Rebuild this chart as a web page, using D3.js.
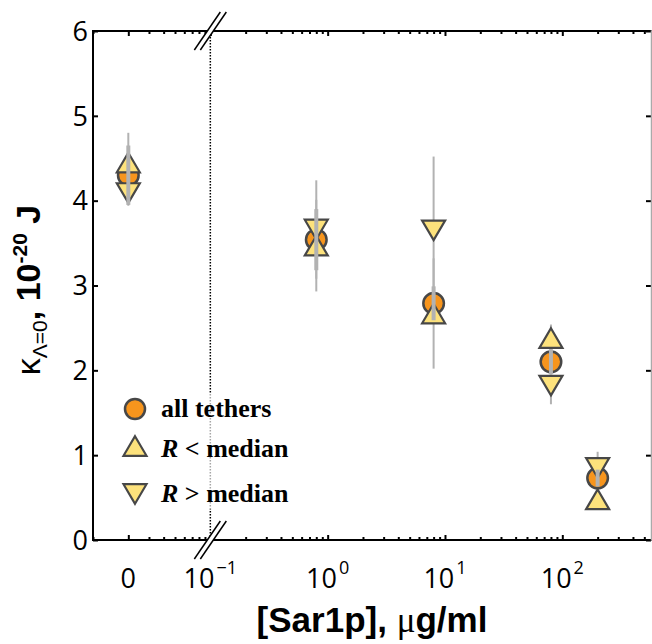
<!DOCTYPE html>
<html>
<head>
<meta charset="utf-8">
<script src="https://cdn.jsdelivr.net/npm/d3@7"></script>
<style>
    body { margin: 0; background: #fff; }
    svg { display: block; }
</style>
</head>
<body>
<div id="chart"></div>
<script>
// Sar1p concentration (µg/ml); 0 is drawn at a fixed spot left of the axis break
const concentrations = [0, 0.8, 8, 80, 200];
const zeroAt = 0.02;

// bending rigidity, 10^-20 J
const allTethers    = [4.30, 3.54, 2.79, 2.10, 0.73];
const allTethersErr = [0.35, 0.36, 0.20, 0.15, 0.10];
const rBelow        = [4.45, 3.47, 2.67, 2.38, 0.48];
const rBelowErr     = [0.35, 0.54, 0.65, 0.16, 0.08];
const rAbove        = [4.09, 3.66, 3.65, 1.82, 0.85];
const rAboveErr     = [0.15, 0.58, 0.87, 0.22, 0.19];

const yTicks = [0, 1, 2, 3, 4, 5, 6];
const xPowers = [0.1, 1, 10, 100];
const xExponents = ['\u22121', '0', '1', '2'];
const xDomain = [0.01, 570];
const yDomain = [0, 6];

const width = 652, height = 644;
const m = { left: 93, right: 651, top: 31, bottom: 540 };

const svg = d3.select('#chart').append('svg')
    .attr('width', width)
    .attr('height', height);

const x = d3.scaleLog().domain(xDomain).range([m.left, m.right]);
const y = d3.scaleLinear().domain(yDomain).range([m.bottom, m.top]);
const px = c => x(c === 0 ? zeroAt : c);

const tickFont = '"Open Sans", sans-serif';
const orange = '#f7951d';
const yellow = '#fde27c';
const edge = '#474747';
const barColor = '#b2b2b2';

// dotted line at the break
const breakX = x(0.1);
svg.append('line')
    .attr('x1', breakX).attr('x2', breakX)
    .attr('y1', m.top).attr('y2', m.bottom)
    .attr('stroke', '#000')
    .attr('stroke-width', 1.5)
    .attr('stroke-dasharray', '1.5,1.5');

// series as rows
const rows = concentrations.map((c, i) => ({
    c,
    all: allTethers[i], allErr: allTethersErr[i],
    lo: rBelow[i], loErr: rBelowErr[i],
    hi: rAbove[i], hiErr: rAboveErr[i]
}));

const plot = svg.append('g');

// thin error bars for the two split series
['lo', 'hi'].forEach(k => {
    plot.selectAll(null)
        .data(rows)
        .enter()
        .append('line')
        .attr('x1', d => px(d.c)).attr('x2', d => px(d.c))
        .attr('y1', d => y(d[k] - d[k + 'Err']))
        .attr('y2', d => y(d[k] + d[k + 'Err']))
        .attr('stroke', barColor)
        .attr('stroke-width', 2);
});

function triangle(up) {
    const w = 11.5, h = 9.8;
    return up
        ? `M0,${-h}L${w},${h}L${-w},${h}Z`
        : `M0,${h}L${w},${-h}L${-w},${-h}Z`;
}

function drawMarkers(g, data, key, shape) {
    const sel = g.selectAll(null)
        .data(data)
        .enter();
    if (shape === 'circle') {
        sel.append('circle')
            .attr('cx', d => px(d.c))
            .attr('cy', d => y(d[key]))
            .attr('r', 10.3)
            .attr('fill', orange)
            .attr('stroke', edge)
            .attr('stroke-width', 2.5);
    } else {
        sel.append('path')
            .attr('d', triangle(shape === 'up'))
            .attr('transform', d => `translate(${px(d.c)},${y(d[key])})`)
            .attr('fill', yellow)
            .attr('stroke', edge)
            .attr('stroke-width', 2.2);
    }
}

drawMarkers(plot, rows, 'all', 'circle');
drawMarkers(plot, rows, 'hi', 'down');
drawMarkers(plot, rows, 'lo', 'up');

// thick error bars for all tethers
plot.selectAll(null)
    .data(rows)
    .enter()
    .append('line')
    .attr('x1', d => px(d.c)).attr('x2', d => px(d.c))
    .attr('y1', d => y(d.all - d.allErr))
    .attr('y2', d => y(d.all + d.allErr))
    .attr('stroke', barColor)
    .attr('stroke-width', 4);

// axes: ticks inward, lines drawn separately
const minorX = x.ticks().filter(v => !xPowers.includes(v) && Math.abs(v - zeroAt) > 1e-9);
const majorX = [zeroAt].concat(xPowers);

function ticksOnly(g) {
    g.select('.domain').remove();
    g.selectAll('.tick line').attr('stroke', '#000').attr('stroke-width', 2);
    g.selectAll('.tick text').remove();
}

[[d3.axisBottom, m.bottom], [d3.axisTop, m.top]].forEach(([axis, pos]) => {
    svg.append('g').attr('transform', `translate(0,${pos})`)
        .call(axis(x).tickValues(minorX).tickSize(-3).tickSizeOuter(0))
        .call(ticksOnly);
    svg.append('g').attr('transform', `translate(0,${pos})`)
        .call(axis(x).tickValues(majorX).tickSize(-5).tickSizeOuter(0))
        .call(ticksOnly);
});

svg.append('g').attr('transform', `translate(${m.left},0)`)
    .call(d3.axisLeft(y).tickValues(yTicks).tickSize(-5).tickSizeOuter(0))
    .call(ticksOnly);
svg.append('g').attr('transform', `translate(${m.right},0)`)
    .call(d3.axisRight(y).tickValues(yTicks).tickSize(-5).tickSizeOuter(0))
    .call(ticksOnly);

const frame = svg.append('g').attr('stroke-linecap', 'square');
frame.append('line').attr('x1', m.left).attr('x2', m.right).attr('y1', m.bottom).attr('y2', m.bottom)
    .attr('stroke', '#000').attr('stroke-width', 2);
frame.append('line').attr('x1', m.left).attr('x2', m.right).attr('y1', m.top).attr('y2', m.top)
    .attr('stroke', '#000').attr('stroke-width', 2);
frame.append('line').attr('x1', m.left).attr('x2', m.left).attr('y1', m.top).attr('y2', m.bottom)
    .attr('stroke', '#000').attr('stroke-width', 2);
frame.append('line').attr('x1', m.right + 0.5).attr('x2', m.right + 0.5).attr('y1', m.top).attr('y2', m.bottom)
    .attr('stroke', '#aaa').attr('stroke-width', 1.5);

// y tick labels
svg.append('g').selectAll('text')
    .data(yTicks)
    .enter()
    .append('text')
    .attr('x', m.left - 5)
    .attr('y', d => y(d))
    .attr('dy', '0.36em')
    .attr('text-anchor', 'end')
    .attr('font-family', tickFont)
    .attr('font-size', 27)
    .text(d => d);

// x tick labels
const xl = svg.append('g')
    .attr('font-family', tickFont)
    .attr('font-size', 27)
    .attr('text-anchor', 'middle');
xl.append('text').attr('x', x(zeroAt)).attr('y', 588).text('0');
xPowers.forEach((v, i) => {
    const t = xl.append('text').attr('x', x(v)).attr('y', 588);
    t.append('tspan').text('10');
    t.append('tspan').attr('font-size', 18).attr('dx', 2).attr('dy', -14).text(xExponents[i]);
});

// axis breaks
[m.top, m.bottom].forEach(yy => {
    const dx = 13, dy = 19, gap = 3;
    svg.append('path')
        .attr('d', `M${breakX - gap - dx},${yy + dy}L${breakX - gap + dx},${yy - dy}` +
                   `L${breakX + gap + dx},${yy - dy}L${breakX + gap - dx},${yy + dy}Z`)
        .attr('fill', '#fff');
    [-gap, gap].forEach(o => {
        svg.append('line')
            .attr('x1', breakX + o - dx).attr('y1', yy + dy)
            .attr('x2', breakX + o + dx).attr('y2', yy - dy)
            .attr('stroke', '#000').attr('stroke-width', 1.5);
    });
});

// axis titles
svg.append('text')
    .attr('x', 372).attr('y', 632)
    .attr('text-anchor', 'middle')
    .attr('font-family', '"Liberation Sans", Arial, sans-serif')
    .attr('font-weight', 'bold')
    .attr('font-size', 35)
    .call(t => {
        t.append('tspan').text('[Sar1p], ');
        t.append('tspan').attr('font-weight', 'normal').attr('font-family', '"Liberation Serif", serif').text('\u03bc');
        t.append('tspan').text('g/ml');
    });

svg.append('text')
    .attr('transform', 'translate(40,290) rotate(-90)')
    .attr('text-anchor', 'middle')
    .attr('font-family', '"Liberation Sans", Arial, sans-serif')
    .attr('font-size', 34)
    .call(t => {
        t.append('tspan').text('\u03ba');
        t.append('tspan').attr('font-size', 21).attr('dy', 7).text('\u039b=0');
        t.append('tspan').attr('font-weight', 'bold').attr('dy', -7).text(', 10');
        t.append('tspan').attr('font-weight', 'bold').attr('font-size', 21).attr('dy', -13).text('-20');
        t.append('tspan').attr('font-weight', 'bold').attr('dy', 13).text(' J');
    });

// legend
const legend = svg.append('g');
legend.append('rect')
    .attr('x', 113).attr('y', 393).attr('width', 185).attr('height', 116)
    .attr('fill', '#fff').attr('opacity', 0.65);

const legendItems = [
    { shape: 'circle', my: 409, ty: 417, label: [['all tethers', 'normal']] },
    { shape: 'up', my: 446, ty: 457, label: [['R', 'italic'], [' < median', 'normal']] },
    { shape: 'down', my: 494, ty: 502, label: [['R', 'italic'], [' > median', 'normal']] }
];
legendItems.forEach(item => {
    if (item.shape === 'circle') {
        legend.append('circle').attr('cx', 135).attr('cy', item.my).attr('r', 10)
            .attr('fill', orange).attr('stroke', edge).attr('stroke-width', 2.5);
    } else {
        legend.append('path').attr('d', triangle(item.shape === 'up'))
            .attr('transform', `translate(135,${item.my})`)
            .attr('fill', yellow).attr('stroke', edge).attr('stroke-width', 2.2);
    }
    const t = legend.append('text')
        .attr('x', 161).attr('y', item.ty)
        .attr('font-family', '"Liberation Serif", "Times New Roman", serif')
        .attr('font-weight', 'bold')
        .attr('font-size', 26);
    item.label.forEach(([s, style]) => t.append('tspan').attr('font-style', style).text(s));
});
</script>
</body>
</html>
